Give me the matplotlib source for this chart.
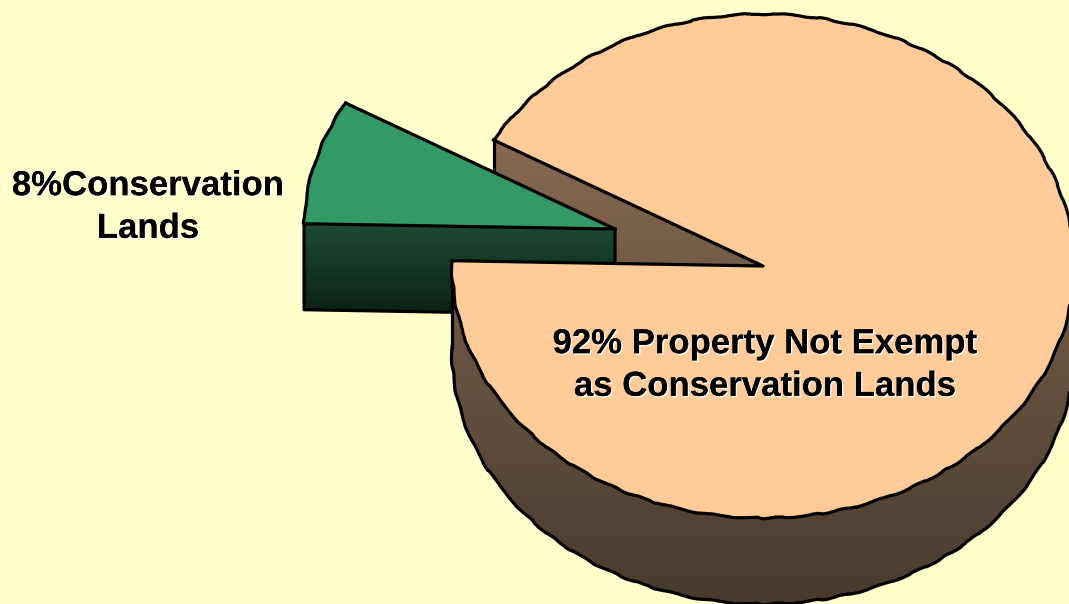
import numpy as np
import matplotlib
matplotlib.use('Agg')
import matplotlib.pyplot as plt
from matplotlib.patches import Polygon
from matplotlib.colors import LinearSegmentedColormap
import matplotlib.patheffects as pe

labels = ['92% Property Not Exempt\nas Conservation Lands', '8%Conservation\nLands']
values = [92, 8]
top_colors = ['#FFCC99', '#339966']
side_colors = [['#8A6D53', '#483A2E'], ['#1D4A35', '#0B2116']]

bg = '#FFFFCC'
start = 150.0       # angle where the small slice begins
cx, cy = 763, 266   # centre of the big slice, in pixels
rx, ry = 311, 252
depth = 86
gap = (-148, -37)   # how far the small slice is pulled out
lw = 2.3


def arc(x0, y0, a, b):
    t = np.radians(np.linspace(a, b, 240))
    return np.column_stack([x0 + rx * np.cos(t), y0 - ry * np.sin(t)])


def gradient(ax, poly, colors, y0, y1):
    cmap = LinearSegmentedColormap.from_list('g', colors)
    im = ax.imshow(np.linspace(0, 1, 256).reshape(-1, 1), cmap=cmap, aspect='auto',
                   extent=(0, 1069, y1, y0), zorder=poly.get_zorder())
    ax.add_patch(poly)
    poly.set_visible(False)
    im.set_clip_path(poly)


def outline(ax, pts, z, wobbly=False):
    line, = ax.plot(pts[:, 0], pts[:, 1], color='k', lw=lw, zorder=z, solid_joinstyle='round')
    if wobbly:
        line.set_sketch_params(scale=0.7, length=70, randomness=8)


fig = plt.figure(figsize=(10.69, 6.04), dpi=100, facecolor=bg)
ax = fig.add_axes([0, 0, 1, 1])
ax.set_xlim(0, 1069)
ax.set_ylim(604, 0)
ax.axis('off')

sweep = values[1] / sum(values) * 360
a0, a1 = start, start + sweep
c = np.array([cx, cy])
down = np.array([0, depth])

# cut face of the big slice, behind everything else
p = arc(cx, cy, a0, a0)[0]
face = np.array([p, c, c + down, p + down])
gradient(ax, Polygon(face, zorder=1), side_colors[0], 100, 604)
outline(ax, np.array([p + down, p]), 1.1)

# small slice: cut face then top
gx, gy = cx + gap[0], cy + gap[1]
g = np.array([gx, gy])
g_arc = arc(gx, gy, a0, a1)
face = np.array([g_arc[-1], g, g + down, g_arc[-1] + down])
gradient(ax, Polygon(face, zorder=2), side_colors[1], 224, 314)
outline(ax, np.array([g, g + down, g_arc[-1] + down, g_arc[-1]]), 2.1)
top = np.vstack([[g], g_arc])
ax.add_patch(Polygon(top, facecolor=top_colors[1], edgecolor='none', zorder=3))
outline(ax, np.array([g_arc[-1], g, g_arc[0]]), 3.1)
outline(ax, g_arc, 3.1, wobbly=True)

# big slice: rim then top
big_arc = arc(cx, cy, a1, a0 + 360)
rim_arc = big_arc[big_arc[:, 1] >= cy - 10]
rim = np.vstack([rim_arc, (rim_arc + down)[::-1]])
gradient(ax, Polygon(rim, zorder=4), side_colors[0], 100, 604)
outline(ax, rim_arc + down, 4.1, wobbly=True)
outline(ax, np.array([rim_arc[0], rim_arc[0] + down]), 4.1)
top = np.vstack([[c], big_arc])
ax.add_patch(Polygon(top, facecolor=top_colors[0], edgecolor='none', zorder=5))
outline(ax, big_arc, 5.1, wobbly=True)
outline(ax, np.array([big_arc[-1], c, big_arc[0]]), 5.1)

shadow = [pe.withSimplePatchShadow(offset=(1, -1), shadow_rgbFace='white', alpha=1), pe.Normal()]
txt = dict(family=['Liberation Sans', 'DejaVu Sans'], fontweight='bold', fontsize=25, ha='center',
           va='center', color='k', linespacing=1.37, zorder=6, path_effects=shadow)
ax.text(765, 365, labels[0], **txt)
ax.text(148, 207, labels[1], **txt)

fig.savefig('out.png', dpi=100, facecolor=bg)
